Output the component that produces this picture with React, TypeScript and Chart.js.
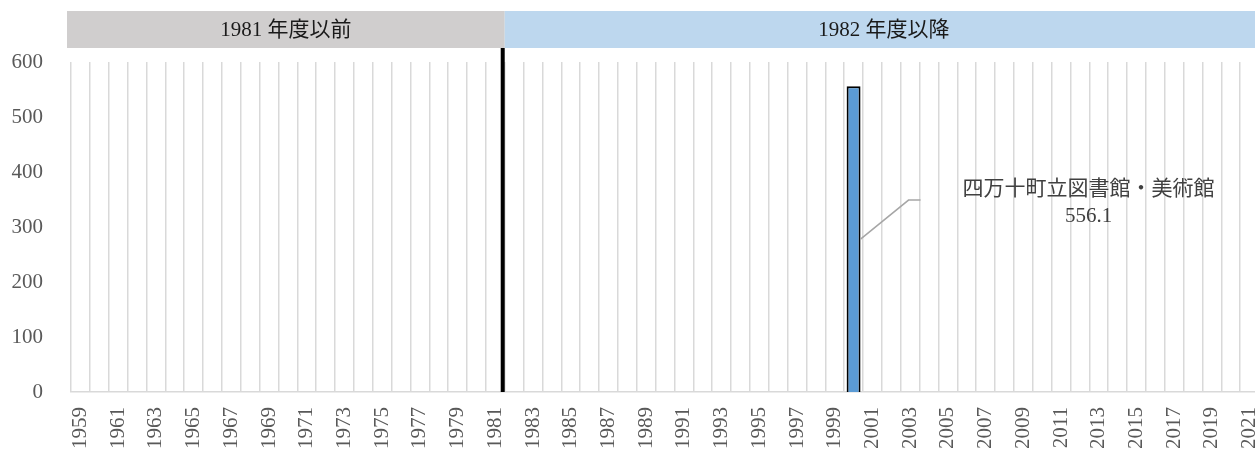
import React, { useEffect, useRef } from "react";
import { Chart, registerables } from "chart.js";

Chart.register(...registerables);

// ---- data ----
const years: string[] = [
  "1959", "1960", "1961", "1962", "1963", "1964", "1965", "1966", "1967", "1968",
  "1969", "1970", "1971", "1972", "1973", "1974", "1975", "1976", "1977", "1978",
  "1979", "1980", "1981", "1982", "1983", "1984", "1985", "1986", "1987", "1988",
  "1989", "1990", "1991", "1992", "1993", "1994", "1995", "1996", "1997", "1998",
  "1999", "2000", "2001", "2002", "2003", "2004", "2005", "2006", "2007", "2008",
  "2009", "2010", "2011", "2012", "2013", "2014", "2015", "2016", "2017", "2018",
  "2019", "2020", "2021",
];

const floorArea: (number | null)[] = [
  null, null, null, null, null, null, null, null, null, null,
  null, null, null, null, null, null, null, null, null, null,
  null, null, null, null, null, null, null, null, null, null,
  null, null, null, null, null, null, null, null, null, null,
  null, 556.1, null, null, null, null, null, null, null, null,
  null, null, null, null, null, null, null, null, null, null,
  null, null, null,
];

const yMin = 0;
const yMax = 600;
const yStep = 100;

const eraLabels: string[] = ["1981 年度以前", "1982 年度以降"];
const eraBoundaryYear = "1981";
const highlightName = "四万十町立図書館・美術館";

const SERIF = "'Liberation Serif', 'Noto Sans CJK JP', serif";

const overlayPlugin = {
  id: "overlay",
  afterDraw(chart: any) {
    const { ctx, chartArea, scales } = chart;
    const xs = scales.x;
    const bIdx = years.indexOf(eraBoundaryYear);
    const boundary = (xs.getPixelForValue(bIdx) + xs.getPixelForValue(bIdx + 1)) / 2;
    const bandTop = chartArea.top - 51;
    const bandBottom = chartArea.top - 14;
    const leftEdge = chartArea.left - 4;
    const rightEdge = chartArea.right + 4;

    ctx.save();
    // era bands
    ctx.fillStyle = "#d0cece";
    ctx.fillRect(leftEdge, bandTop, boundary - leftEdge, bandBottom - bandTop);
    ctx.fillStyle = "#bdd7ee";
    ctx.fillRect(boundary, bandTop, rightEdge - boundary, bandBottom - bandTop);

    ctx.fillStyle = "#1a1a1a";
    ctx.font = `21px ${SERIF}`;
    ctx.textAlign = "center";
    ctx.textBaseline = "middle";
    const midY = (bandTop + bandBottom) / 2 + 1;
    ctx.fillText(eraLabels[0], (leftEdge + boundary) / 2, midY);
    ctx.fillText(eraLabels[1], (boundary + rightEdge) / 2, midY);

    // era divider line
    ctx.strokeStyle = "#000000";
    ctx.lineWidth = 4;
    ctx.beginPath();
    ctx.moveTo(boundary - 2, bandBottom);
    ctx.lineTo(boundary - 2, chartArea.bottom);
    ctx.stroke();

    // callout for the highlighted bar
    const idx = floorArea.findIndex((v) => v !== null);
    const meta = chart.getDatasetMeta(0);
    const bar = meta.data[idx];
    if (bar) {
      const p = bar.getProps(["x", "y", "base", "width"], true);
      const rx = p.x + p.width / 2;
      const my = (p.y + p.base) / 2;
      ctx.strokeStyle = "#a6a6a6";
      ctx.lineWidth = 1.5;
      ctx.beginPath();
      ctx.moveTo(rx, my);
      ctx.lineTo(rx + 48, my - 39);
      ctx.lineTo(rx + 60, my - 39);
      ctx.stroke();

      ctx.fillStyle = "#404040";
      ctx.font = `21px ${SERIF}`;
      ctx.textAlign = "center";
      ctx.textBaseline = "middle";
      const cx = p.x + 235;
      ctx.fillText(highlightName, cx, my - 50);
      ctx.fillText(String(floorArea[idx]), cx, my - 23);
    }
    ctx.restore();
  },
};

export default function App() {
  const ref = useRef<HTMLCanvasElement | null>(null);

  useEffect(() => {
    if (!ref.current) return;
    const chart = new Chart(ref.current, {
      type: "bar",
      data: {
        labels: years,
        datasets: [
          {
            data: floorArea as any,
            backgroundColor: "#5b9bd5",
            borderColor: "#000000",
            borderWidth: 2,
            barPercentage: 0.74,
            categoryPercentage: 1,
          },
        ],
      },
      options: {
        responsive: false,
        animation: false,
        devicePixelRatio: 1,
        layout: { padding: { top: 62, left: 0, right: 27.9, bottom: 0 } },
        plugins: {
          legend: { display: false },
          tooltip: { enabled: false },
          title: { display: false },
        },
        scales: {
          x: {
            offset: true,
            grid: {
              display: true,
              offset: true,
              color: "#d9d9d9",
              lineWidth: 1.5,
              drawTicks: false,
            },
            border: { display: true, color: "#d9d9d9", width: 1.5 },
            ticks: {
              autoSkip: false,
              maxRotation: 90,
              minRotation: 90,
              padding: 15,
              color: "#595959",
              font: { family: SERIF, size: 21 },
              callback: (_v: any, i: number) => (i % 2 === 0 ? years[i] : ""),
            },
            afterFit: (scale: any) => {
              scale.height = 61;
            },
          },
          y: {
            min: yMin,
            max: yMax,
            grid: { display: false, drawTicks: false },
            border: { display: false },
            ticks: {
              stepSize: yStep,
              padding: 28,
              color: "#595959",
              font: { family: SERIF, size: 21 },
            },
            afterFit: (scale: any) => {
              scale.width = 71;
            },
          },
        },
      },
      plugins: [overlayPlugin],
    });
    return () => chart.destroy();
  }, []);

  return (
    <div
      style={{
        position: "fixed",
        left: 0,
        top: 0,
        width: 1255,
        height: 453,
        overflow: "hidden",
        background: "#ffffff",
      }}
    >
      <canvas ref={ref} width={1290} height={453} style={{ display: "block" }} />
    </div>
  );
}
